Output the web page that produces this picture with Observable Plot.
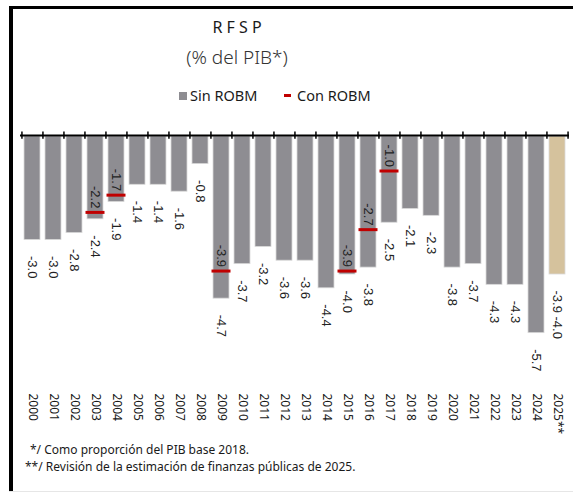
<!DOCTYPE html>
<html>
<head>
<meta charset="utf-8">
<script src="https://cdn.jsdelivr.net/npm/d3@7"></script>
<script src="https://cdn.jsdelivr.net/npm/@observablehq/plot@0.6"></script>
<style>
  html, body { margin: 0; padding: 0; background: #fff; }
  #wrap { position: relative; width: 573px; height: 493px; overflow: hidden; font-family: "Noto Sans", sans-serif; }
  #frame { position: absolute; left: 9px; top: 6px; width: 570px; height: 485px; border-top: 3px solid #000; border-left: 4px solid #000; box-sizing: border-box; }
  #bottomline { position: absolute; left: 9px; top: 491px; width: 564px; height: 1px; background: #e6e6e6; }
  .t { position: absolute; white-space: nowrap; color: #1a1a1a; }
  #chart { position: absolute; left: 0; top: 120px; }
</style>
</head>
<body>
<div id="wrap">
  <div id="frame"></div>
  <div id="bottomline"></div>
  <div class="t" id="title" style="left:0;width:474px;text-align:center;top:19px;font-size:16px;line-height:16px;">R F S P</div>
  <div class="t" id="subtitle" style="left:0;width:474px;text-align:center;top:48px;font-size:19px;line-height:19px;color:#333;font-weight:300;">(% del PIB*)</div>
  <div class="t" style="left:179px;top:92px;width:8px;height:8px;background:#8e8d92;"></div>
  <div class="t" style="left:190px;top:88px;font-size:14.5px;line-height:14px;">Sin ROBM</div>
  <div class="t" style="left:284px;top:94px;width:7px;height:2.5px;background:#c00000;"></div>
  <div class="t" style="left:297px;top:88px;font-size:14.5px;line-height:14px;">Con ROBM</div>
  <div id="chart"></div>
  <div class="t" style="left:30px;top:444px;font-size:12px;line-height:12px;">*/ Como proporción del PIB base 2018.</div>
  <div class="t" style="left:25px;top:461px;font-size:12px;line-height:12px;">**/ Revisión de la estimación de finanzas públicas de 2025.</div>
</div>
<script>
// Años (categorías)
const years = ["2000","2001","2002","2003","2004","2005","2006","2007","2008","2009","2010","2011","2012",
  "2013","2014","2015","2016","2017","2018","2019","2020","2021","2022","2023","2024","2025**"];
// RFSP sin ROBM (% del PIB)
const sinRobm = [-3.0,-3.0,-2.8,-2.4,-1.9,-1.4,-1.4,-1.6,-0.8,-4.7,-3.7,-3.2,-3.6,
  -3.6,-4.4,-4.0,-3.8,-2.5,-2.1,-2.3,-3.8,-3.7,-4.3,-4.3,-5.7,-4.0];
// RFSP con ROBM (sólo años con marca)
const conYears = ["2003","2004","2009","2015","2016","2017"];
const conRobm = [-2.2,-1.7,-3.9,-3.9,-2.7,-1.0];
// Revisión 2025 (etiqueta adicional)
const revision2025 = -3.9;

const data = years.map((y, i) => ({
  year: y,
  value: sinRobm[i],
  label: y === "2025**" ? `${revision2025.toFixed(1)} ${sinRobm[i].toFixed(1)}` : sinRobm[i].toFixed(1),
  est: y === "2025**"
}));
const con = conYears.map((y, i) => ({year: y, value: conRobm[i], label: conRobm[i].toFixed(1)}));

const W = 573, H = 320, ML = 20, MR = 4, MT = 16, MB = 62.5;
const step = (W - ML - MR) / years.length;

const chart = Plot.plot({
  width: W, height: H,
  marginLeft: ML, marginRight: MR, marginTop: MT, marginBottom: MB,
  style: {background: "transparent", overflow: "visible"},
  x: {domain: years, paddingInner: 0.25, paddingOuter: 0.125, axis: null},
  y: {domain: [-7, 0], axis: null},
  marks: [
    Plot.barY(data, {x: "year", y: "value", fill: d => d.est ? "#d5c29d" : "#8e8d92", stroke: "#d9d9d9", strokeWidth: 0.8}),
    Plot.tickY(con, {x: "year", y: "value", stroke: "#c00000", strokeWidth: 3, insetLeft: -1.5, insetRight: -1.5}),
    Plot.ruleY([0], {stroke: "#000", strokeWidth: 2, dy: -1}),
    Plot.ruleX(years, {x: d => d, y1: 0.13, y2: -0.08, stroke: "#000", strokeWidth: 1.5, dx: -step / 2}),
    Plot.ruleX([years[years.length - 1]], {x: d => d, y1: 0.13, y2: -0.08, stroke: "#000", strokeWidth: 1.5, dx: step / 2}),
    Plot.text(data, {x: "year", y: "value", text: "label", rotate: 90, textAnchor: "start", lineAnchor: "middle",
      dy: 16, fontSize: 13, fontFamily: "Liberation Sans, Arial, sans-serif", fill: "#222"}),
    Plot.text(con, {x: "year", y: "value", text: "label", rotate: 90, textAnchor: "end", lineAnchor: "middle",
      dy: -4, fontSize: 13, fontFamily: "Liberation Sans, Arial, sans-serif", fill: "#222"}),
    Plot.text(years, {x: d => d, text: d => d, frameAnchor: "bottom", rotate: 90, textAnchor: "start", lineAnchor: "middle",
      dy: 15.5, fontSize: 12, fontFamily: "Noto Sans, sans-serif", fill: "#1a1a1a"})
  ]
});
document.getElementById("chart").appendChild(chart);
</script>
</body>
</html>
